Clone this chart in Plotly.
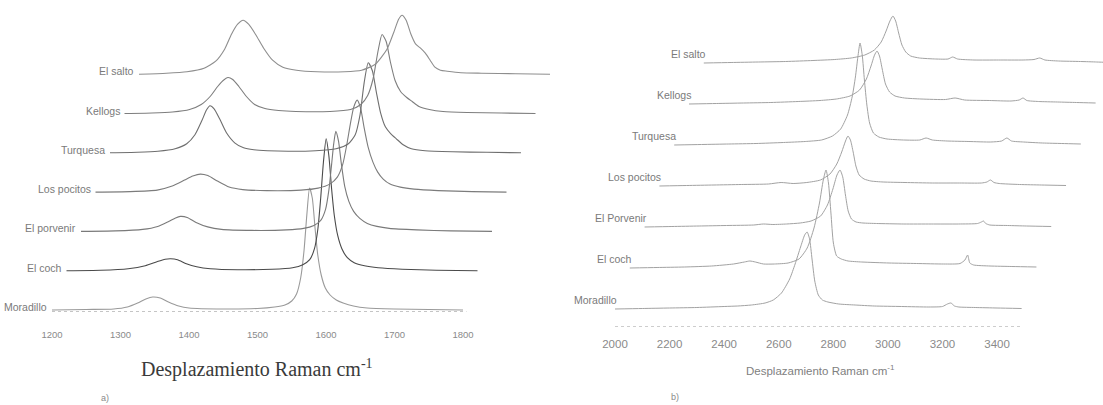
import plotly.graph_objects as go

# ---------------- Panel a) : 1200-1800 cm-1 (D and G bands) ----------------
a_names = ["Moradillo", "El coch", "El porvenir", "Los pocitos", "Turquesa", "Kellogs", "El salto"]
a_ticks = [1200, 1300, 1400, 1500, 1600, 1700, 1800]

a_moradillo_wn = [1200, 1250, 1290, 1310, 1325, 1337, 1347, 1358, 1370, 1385, 1400, 1450, 1500, 1525, 1540, 1550, 1557, 1563, 1568, 1572, 1576, 1580, 1584, 1588, 1593, 1599, 1606, 1615, 1625, 1640, 1660, 1700, 1750, 1800]
a_moradillo_i = [0, 0.5, 1, 3, 7, 11, 13, 12, 8, 4, 2, 1, 1.5, 3, 5, 9, 16, 32, 60, 95, 122, 112, 82, 55, 35, 22, 15, 10, 7, 4, 2, 1, 0.5, 0]

a_elcoch_wn = [1200, 1250, 1290, 1315, 1332, 1344, 1352, 1362, 1375, 1390, 1410, 1450, 1500, 1530, 1545, 1555, 1562, 1567, 1571, 1575, 1579, 1583, 1587, 1591, 1596, 1602, 1610, 1620, 1635, 1655, 1690, 1740, 1800]
a_elcoch_i = [0, 0.5, 2, 5, 9, 11.5, 12, 11, 7, 4, 2, 1, 1.5, 3, 6, 11, 22, 42, 72, 108, 132, 115, 82, 55, 35, 22, 13, 8, 5, 3, 1.5, 0.5, 0]

a_porvenir_wn = [1200, 1250, 1290, 1312, 1328, 1338, 1345, 1355, 1368, 1385, 1405, 1450, 1500, 1525, 1540, 1550, 1557, 1562, 1566, 1569, 1572, 1576, 1580, 1585, 1591, 1598, 1607, 1618, 1632, 1650, 1690, 1740, 1800]
a_porvenir_i = [0, 0.5, 2, 5, 10, 13.5, 15, 14, 9, 4.5, 2, 1, 1.5, 3, 6, 11, 22, 42, 68, 88, 100, 90, 68, 45, 30, 20, 13, 8, 5, 3, 1.5, 0.5, 0]

a_pocitos_wn = [1200, 1250, 1290, 1312, 1330, 1342, 1353, 1364, 1378, 1395, 1415, 1450, 1500, 1525, 1542, 1553, 1561, 1567, 1572, 1577, 1582, 1587, 1592, 1598, 1605, 1612, 1620, 1630, 1645, 1665, 1700, 1750, 1800]
a_pocitos_i = [0, 0.5, 2, 6, 12, 16, 18, 16.5, 11, 5, 2.5, 1.5, 2, 4, 8, 15, 28, 48, 68, 85, 92, 84, 65, 45, 30, 20, 13, 8, 5, 3, 1.5, 0.5, 0]

a_turquesa_wn = [1200, 1240, 1270, 1295, 1312, 1324, 1334, 1341, 1346, 1352, 1360, 1370, 1382, 1395, 1410, 1430, 1460, 1500, 1530, 1548, 1558, 1565, 1571, 1577, 1583, 1589, 1595, 1602, 1610, 1618, 1628, 1640, 1660, 1700, 1750, 1800]
a_turquesa_i = [0, 0.5, 1.5, 4, 9, 18, 32, 43, 47, 44, 34, 20, 10, 5, 3, 2, 1.5, 2, 4, 9, 18, 38, 70, 90, 82, 60, 40, 26, 19, 14, 8, 4, 2, 1, 0.5, 0]

a_kellogs_wn = [1200, 1240, 1270, 1295, 1312, 1325, 1336, 1344, 1351, 1358, 1367, 1378, 1390, 1405, 1425, 1450, 1500, 1530, 1545, 1555, 1563, 1570, 1576, 1582, 1588, 1595, 1603, 1612, 1620, 1630, 1645, 1665, 1700, 1750, 1800]
a_kellogs_i = [0, 0.5, 1.5, 4, 9, 17, 27, 33, 36, 34, 27, 17, 9, 5, 3, 2, 2, 4, 9, 18, 35, 62, 79, 72, 52, 33, 22, 16, 12, 7, 4, 2, 1, 0.5, 0]

a_salto_wn = [1200, 1240, 1270, 1295, 1312, 1325, 1335, 1344, 1352, 1360, 1370, 1382, 1395, 1410, 1430, 1460, 1500, 1525, 1545, 1562, 1572, 1579, 1584, 1590, 1597, 1604, 1611, 1618, 1625, 1632, 1640, 1650, 1670, 1700, 1750, 1800]
a_salto_i = [0, 1, 2.5, 6, 13, 25, 40, 50, 54, 50, 40, 26, 14, 7, 4, 2.5, 2.5, 4, 10, 25, 42, 55, 59, 54, 40, 30, 26, 21, 14, 7, 4, 3, 1.5, 1, 0.5, 0]

# ---------------- Panel b) : 2000-3500 cm-1 (second order) ----------------
b_names = ["Moradillo", "El coch", "El Porvenir", "Los pocitos", "Turquesa", "Kellogs", "El salto"]
b_ticks = [2000, 2200, 2400, 2600, 2800, 3000, 3200, 3400]

b_moradillo_wn = [2000, 2100, 2200, 2300, 2400, 2450, 2500, 2550, 2580, 2610, 2640, 2660, 2680, 2695, 2704, 2713, 2722, 2732, 2745, 2760, 2780, 2820, 2880, 2950, 3050, 3150, 3200, 3218, 3231, 3244, 3260, 3320, 3400, 3490]
b_moradillo_i = [0, 0.5, 1, 1.5, 2.5, 3, 4, 6, 9, 16, 30, 45, 62, 74, 77, 70, 50, 28, 14, 9, 7, 5, 4, 3, 2.5, 2, 2.5, 5, 6, 3, 2, 1.5, 1, 0.5]

b_elcoch_wn = [2000, 2100, 2200, 2300, 2380, 2420, 2440, 2460, 2490, 2530, 2580, 2620, 2650, 2675, 2695, 2709, 2719, 2728, 2737, 2746, 2758, 2775, 2800, 2850, 2950, 3050, 3150, 3210, 3228, 3238, 3246, 3260, 3320, 3400, 3490]
b_elcoch_i = [0, 0.5, 1, 2, 4, 6, 7, 6, 4, 4, 5, 9, 20, 40, 65, 88, 98, 85, 55, 25, 12, 9, 7, 6, 5, 4.5, 4, 4.5, 8, 13, 5, 3, 2, 1.5, 1]

b_porvenir_wn = [2000, 2100, 2200, 2300, 2400, 2435, 2470, 2520, 2570, 2610, 2645, 2670, 2690, 2705, 2716, 2726, 2736, 2746, 2758, 2775, 2800, 2850, 2950, 3050, 3150, 3220, 3234, 3242, 3250, 3265, 3330, 3400, 3490]
b_porvenir_i = [0, 0.5, 1, 1.5, 2, 3, 2.5, 3, 4, 6, 11, 22, 38, 52, 57, 50, 32, 16, 8, 5, 4, 3.5, 3, 3, 3, 3.5, 5, 6, 3.5, 2, 1.5, 1, 0.5]

b_pocitos_wn = [2000, 2100, 2200, 2300, 2400, 2446, 2490, 2540, 2590, 2625, 2650, 2668, 2682, 2691, 2700, 2710, 2720, 2732, 2750, 2775, 2820, 2900, 3000, 3100, 3180, 3200, 3213, 3226, 3245, 3320, 3400, 3490]
b_pocitos_i = [0, 0.5, 1, 1.5, 2, 3.5, 2.5, 3.5, 6, 12, 22, 34, 45, 50, 46, 34, 20, 11, 7, 5, 4, 3.5, 3, 3, 3, 4, 6, 3.5, 2.5, 1.5, 1, 0.5]

b_turquesa_wn = [2000, 2100, 2200, 2300, 2400, 2480, 2540, 2580, 2610, 2635, 2652, 2664, 2673, 2681, 2689, 2697, 2706, 2716, 2730, 2750, 2780, 2840, 2900, 2923, 2946, 3000, 3080, 3160, 3200, 3219, 3236, 3280, 3350, 3420, 3490]
b_turquesa_i = [0, 0.5, 1, 1.5, 2.5, 3.5, 5, 9, 16, 30, 48, 68, 88, 102, 90, 65, 40, 22, 12, 8, 6, 5, 5, 7, 5, 4, 3.5, 3, 4, 7, 4, 3, 2, 1.5, 1]

b_kellogs_wn = [2000, 2100, 2200, 2300, 2400, 2480, 2540, 2590, 2625, 2650, 2667, 2680, 2689, 2698, 2708, 2720, 2735, 2755, 2790, 2850, 2940, 2975, 3010, 3100, 3180, 3210, 3224, 3238, 3280, 3350, 3420, 3490]
b_kellogs_i = [0, 0.5, 1, 1.5, 2.5, 3.5, 5, 8, 14, 25, 38, 49, 53, 48, 35, 20, 12, 8, 6, 5, 4.5, 6, 4, 3.5, 3, 4, 6, 3.5, 2.5, 2, 1.5, 1]

b_salto_wn = [2000, 2100, 2200, 2300, 2400, 2480, 2540, 2590, 2625, 2650, 2668, 2682, 2693, 2703, 2714, 2726, 2740, 2758, 2790, 2850, 2895, 2912, 2930, 2990, 3080, 3170, 3210, 3231, 3250, 3300, 3380, 3440, 3490]
b_salto_i = [0, 0.5, 1, 1.5, 2.5, 3.5, 5, 8, 13, 21, 32, 42, 47, 42, 30, 18, 11, 7, 5, 4, 4, 6, 4, 3, 3, 3, 3.5, 5, 3, 2, 1.5, 1, 0.5]

a_wn = [a_moradillo_wn, a_elcoch_wn, a_porvenir_wn, a_pocitos_wn, a_turquesa_wn, a_kellogs_wn, a_salto_wn]
a_int = [a_moradillo_i, a_elcoch_i, a_porvenir_i, a_pocitos_i, a_turquesa_i, a_kellogs_i, a_salto_i]
b_wn = [b_moradillo_wn, b_elcoch_wn, b_porvenir_wn, b_pocitos_wn, b_turquesa_wn, b_kellogs_wn, b_salto_wn]
b_int = [b_moradillo_i, b_elcoch_i, b_porvenir_i, b_pocitos_i, b_turquesa_i, b_kellogs_i, b_salto_i]

# ---------------- layout constants ----------------
W, H = 1103, 405
SPLIT = 560                       # px where panel b starts
A_PX0, A_PPU = 52, 0.685          # px of first tick, px per cm-1
A_AXIS_PY = 312
A_DX_PX, A_Y0, A_DY = 14.5, 2.0, 39.3
B_PX0, B_PPU = 615, 0.2729
B_AXIS_PY = 327
B_DX_PX, B_Y0, B_DY = 14.8, 18.0, 41.0

a_colors = ["#9a9a9a", "#4a4a4a", "#7a7a7a", "#7c7c7c", "#6e6e6e", "#7e7e7e", "#8e8e8e"]
b_color = "#a2a2a2"
label_color = "#7a7a7a"
SANS = "Liberation Sans, Arial, sans-serif"
SERIF = "Liberation Serif, Times New Roman, serif"

fig = go.Figure()

a_xmin = a_ticks[0] - A_PX0 / A_PPU
a_xmax = a_ticks[0] + (SPLIT - A_PX0) / A_PPU
b_xmin = b_ticks[0] + (SPLIT - B_PX0) / B_PPU
b_xmax = b_ticks[0] + (W - B_PX0) / B_PPU

annotations = []

for k, name in enumerate(a_names):
    dx = k * A_DX_PX / A_PPU
    base = A_Y0 + k * A_DY
    fig.add_trace(go.Scatter(
        x=[w + dx for w in a_wn[k]], y=[v + base for v in a_int[k]],
        mode="lines", line=dict(color=a_colors[k], width=1.1, shape="spline", smoothing=0.6),
        xaxis="x", yaxis="y", hoverinfo="skip", showlegend=False))
    annotations.append(dict(x=a_wn[k][0] + dx, y=base + 3, xref="x", yref="y",
                            text=name, showarrow=False, xanchor="right", yanchor="middle",
                            xshift=-3, font=dict(family=SANS, size=10.5, color=label_color)))

for k, name in enumerate(b_names):
    dx = k * B_DX_PX / B_PPU
    base = B_Y0 + k * B_DY
    fig.add_trace(go.Scatter(
        x=[w + dx for w in b_wn[k]], y=[v + base for v in b_int[k]],
        mode="lines", line=dict(color=b_color, width=1, shape="spline", smoothing=0.6),
        xaxis="x2", yaxis="y2", hoverinfo="skip", showlegend=False))
    annotations.append(dict(x=b_wn[k][0] + dx, y=base + 9, xref="x2", yref="y2",
                            text=name, showarrow=False, xanchor="right", yanchor="middle",
                            xshift=4, font=dict(family=SANS, size=10.5, color=label_color)))

# axis base lines (dotted, like the scanned originals)
shapes = [
    dict(type="line", xref="x", yref="y", x0=a_ticks[0], x1=a_ticks[-1] + 5, y0=0, y1=0,
         line=dict(color="#8a8a8a", width=1, dash="dot")),
    dict(type="line", xref="x2", yref="y2", x0=b_ticks[0], x1=b_ticks[-1] + 95, y0=0, y1=0,
         line=dict(color="#9a9a9a", width=1, dash="dot")),
]

# titles and panel letters
annotations += [
    dict(x=257 / W, y=1 - 368 / H, xref="paper", yref="paper", showarrow=False,
         text="Desplazamiento Raman cm<sup>-1</sup>", xanchor="center", yanchor="middle",
         font=dict(family=SERIF, size=20, color="#3a3a3a")),
    dict(x=820 / W, y=1 - 370 / H, xref="paper", yref="paper", showarrow=False,
         text="Desplazamiento Raman cm<sup>-1</sup>", xanchor="center", yanchor="middle",
         font=dict(family=SANS, size=11.5, color="#808080")),
    dict(x=105 / W, y=1 - 398 / H, xref="paper", yref="paper", showarrow=False,
         text="a)", xanchor="center", yanchor="middle",
         font=dict(family=SANS, size=9, color="#8a8a8a")),
    dict(x=675 / W, y=1 - 397 / H, xref="paper", yref="paper", showarrow=False,
         text="b)", xanchor="center", yanchor="middle",
         font=dict(family=SANS, size=9, color="#8a8a8a")),
]

fig.update_layout(
    width=W, height=H, margin=dict(l=0, r=0, t=0, b=0),
    paper_bgcolor="white", plot_bgcolor="white", showlegend=False, hovermode=False,
    xaxis=dict(domain=[0, SPLIT / W], range=[a_xmin, a_xmax], anchor="y",
               tickvals=a_ticks, ticktext=[str(t) for t in a_ticks],
               ticks="outside", ticklen=14, tickcolor="rgba(0,0,0,0)",
               showline=False, showgrid=False, zeroline=False,
               tickfont=dict(family=SANS, size=9.5, color="#8a8a8a")),
    yaxis=dict(domain=[(H - A_AXIS_PY) / H, 1], range=[0, A_AXIS_PY], anchor="x",
               visible=False, showgrid=False, zeroline=False),
    xaxis2=dict(domain=[SPLIT / W, 1], range=[b_xmin, b_xmax], anchor="y2",
                tickvals=b_ticks, ticktext=[str(t) for t in b_ticks],
                ticks="outside", ticklen=6, tickcolor="rgba(0,0,0,0)",
                showline=False, showgrid=False, zeroline=False,
                tickfont=dict(family=SANS, size=11.5, color="#8a8a8a")),
    yaxis2=dict(domain=[(H - B_AXIS_PY) / H, 1], range=[0, B_AXIS_PY], anchor="x2",
                visible=False, showgrid=False, zeroline=False),
    annotations=annotations, shapes=shapes,
)

fig.write_html("out.html", config={"displayModeBar": False})
